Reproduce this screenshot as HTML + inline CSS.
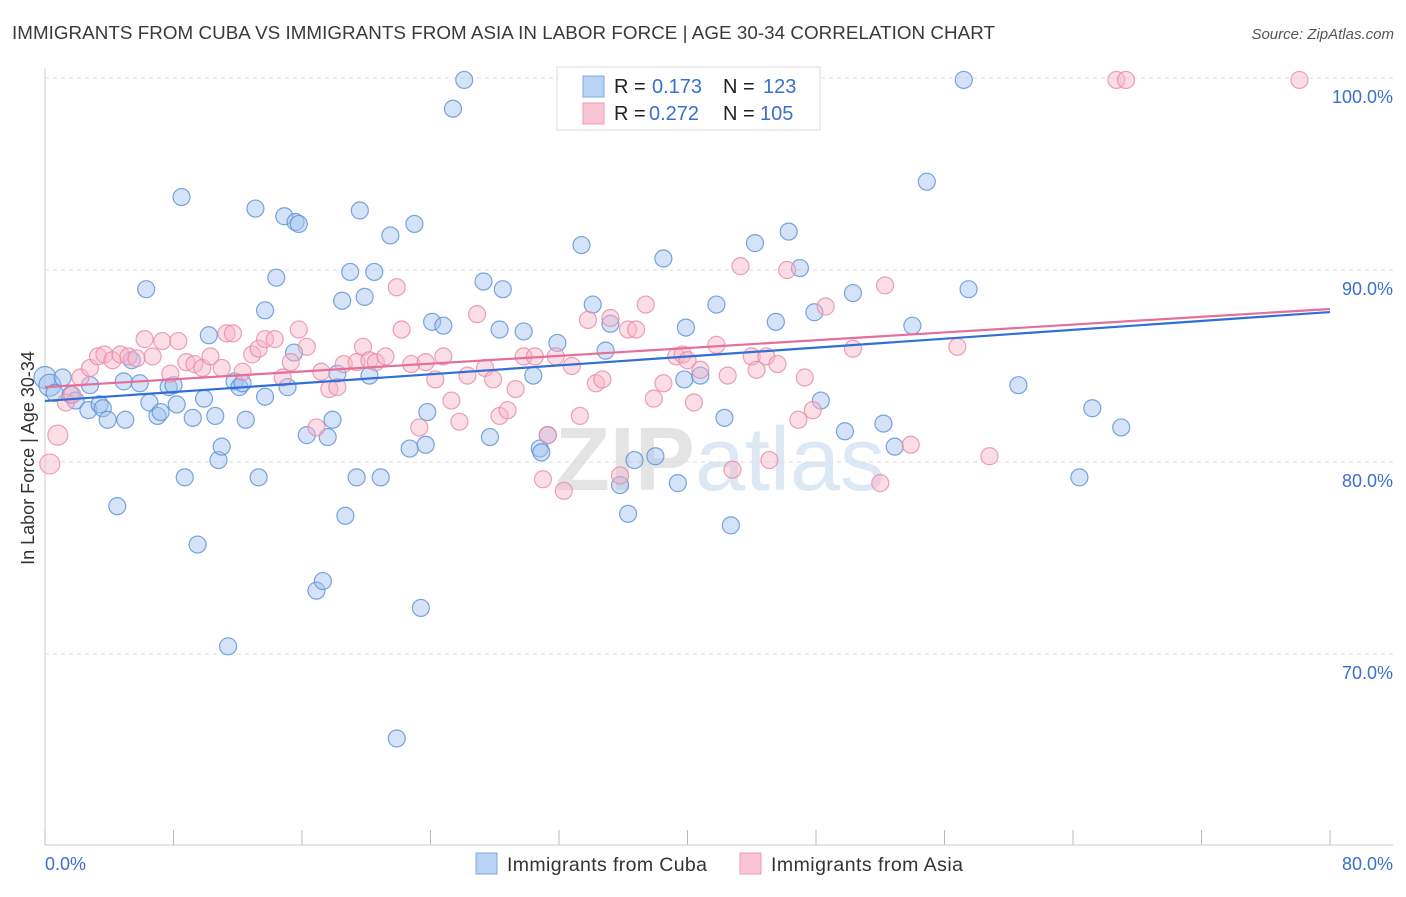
<!DOCTYPE html>
<html><head><meta charset="utf-8"><style>
body{margin:0;background:#fff;font-family:"Liberation Sans",sans-serif}
svg text{font-family:"Liberation Sans",sans-serif}
</style></head><body>
<svg id="chart" width="1406" height="892" xmlns="http://www.w3.org/2000/svg">
<text x="12" y="39" font-size="18.8" fill="#3a3a3a" textLength="983">IMMIGRANTS FROM CUBA VS IMMIGRANTS FROM ASIA IN LABOR FORCE | AGE 30-34 CORRELATION CHART</text>
<text x="1394" y="39" font-size="15" fill="#555" font-style="italic" text-anchor="end">Source: ZipAtlas.com</text>
<text x="720" y="490" font-size="90" fill="#e4e4e4" text-anchor="middle" font-weight="bold">ZIP<tspan fill="#dde8f5" font-weight="normal">atlas</tspan></text>
<g id="grid"></g>
<g id="marks"></g>
<text transform="translate(34,458) rotate(-90)" font-size="18" fill="#333" text-anchor="middle">In Labor Force | Age 30-34</text>
<text x="45" y="870" font-size="18" fill="#3a6fd0">0.0%</text>
<text x="1393" y="870" font-size="18" fill="#3a6fd0" text-anchor="end">80.0%</text>
<g>
<rect x="557" y="67" width="263" height="63" fill="#fff" stroke="#ddd"/>
<rect x="583" y="76" width="21" height="21" fill="#b9d3f5" stroke="#7fa8e0"/>
<rect x="583" y="103" width="21" height="21" fill="#f9c5d5" stroke="#eb9ab4"/>
<text x="614" y="93" font-size="20" fill="#222">R =</text>
<text x="652" y="93" font-size="20" fill="#3a6fd0">0.173</text>
<text x="723" y="93" font-size="20" fill="#222">N =</text>
<text x="763" y="93" font-size="20" fill="#3a6fd0">123</text>
<text x="614" y="120" font-size="20" fill="#222">R =</text>
<text x="649" y="120" font-size="20" fill="#3a6fd0">0.272</text>
<text x="723" y="120" font-size="20" fill="#222">N =</text>
<text x="760" y="120" font-size="20" fill="#3a6fd0">105</text>
</g>
<g>
<rect x="476" y="853" width="21" height="21" fill="#b9d3f5" stroke="#7fa8e0"/>
<text x="507" y="871" font-size="19.5" fill="#333" textLength="200">Immigrants from Cuba</text>
<rect x="740" y="853" width="21" height="21" fill="#f9c5d5" stroke="#eb9ab4"/>
<text x="771" y="871" font-size="19.5" fill="#333" textLength="192">Immigrants from Asia</text>
</g>
</svg>
<script>
const blueX=[0,0.3,1.1,0.6,1.6,1.9,2.7,2.8,3.4,3.6,3.9,4.5,4.9,5.0,5.4,5.9,6.3,6.5,7.0,7.2,7.7,8.0,8.2,8.5,8.7,9.2,9.5,9.9,10.2,10.6,10.8,11.0,11.4,11.8,12.1,12.3,12.5,13.1,13.3,13.7,13.7,14.4,14.9,15.1,15.6,15.8,15.5,16.3,16.9,17.3,17.6,17.9,18.2,18.5,18.7,19.0,19.4,19.6,19.9,20.2,20.5,20.9,21.5,21.9,22.7,23.0,23.4,23.7,23.8,24.1,24.8,25.4,26.1,27.3,27.7,28.3,28.5,29.8,30.4,30.8,30.9,31.3,31.9,32.4,33.4,34.1,34.9,35.2,35.8,36.3,36.7,38.0,38.5,39.4,39.8,39.9,40.8,41.8,42.3,42.7,44.2,45.5,46.3,47.0,47.9,48.3,49.8,50.3,52.2,52.9,54.0,54.9,57.2,57.5,60.6,64.4,65.2,67.0];
const blueY=[84.4,84.0,84.4,83.6,83.5,83.2,82.7,84.0,83.0,82.8,82.2,77.7,84.2,82.2,85.3,84.1,89.0,83.1,82.4,82.6,83.9,84.0,83.0,93.8,79.2,82.3,75.7,83.3,86.6,82.4,80.1,80.8,70.4,84.2,83.9,84.1,82.2,93.2,79.2,83.4,87.9,89.6,92.8,83.9,92.5,92.4,85.7,81.4,73.3,73.8,81.3,82.2,84.6,88.4,77.2,89.9,79.2,93.1,88.6,84.5,89.9,79.2,91.8,65.6,80.7,92.4,72.4,80.9,82.6,87.3,87.1,98.4,99.9,89.4,81.3,86.9,89.0,86.8,84.5,80.7,80.5,81.4,86.2,99.9,91.3,88.2,85.8,87.2,78.8,77.3,80.1,80.3,90.6,78.9,84.3,87.0,84.5,88.2,82.3,76.7,91.4,87.3,92.0,90.1,87.8,83.2,81.6,88.8,82.0,80.8,87.1,94.6,99.9,89.0,84.0,79.2,82.8,81.8];
const pinkX=[0.3,0.8,1.3,1.7,2.2,2.8,3.3,3.7,4.2,4.7,5.2,5.7,6.2,6.7,7.3,7.8,8.3,8.8,9.3,9.8,10.3,11.0,11.3,11.7,12.3,12.9,13.3,13.7,14.3,14.8,15.3,15.8,16.3,16.9,17.2,17.7,18.2,18.6,19.4,19.8,20.2,20.6,21.2,21.9,22.2,22.8,23.3,23.7,24.3,24.8,25.3,25.8,26.3,26.9,27.4,27.9,28.3,28.8,29.3,29.8,30.5,31.0,31.3,31.8,32.3,32.8,33.3,33.8,34.3,34.7,35.2,35.8,36.3,36.8,37.4,37.9,38.5,39.3,39.7,40.0,40.4,40.8,41.8,42.5,42.8,43.3,44.0,44.3,44.9,45.1,45.6,46.2,46.9,47.3,47.8,48.6,50.3,52.0,52.3,53.9,56.8,58.8,66.7,67.3,78.1];
const pinkY=[79.9,81.4,83.1,83.5,84.4,84.9,85.5,85.6,85.3,85.6,85.5,85.4,86.4,85.5,86.3,84.6,86.3,85.2,85.1,84.9,85.5,84.9,86.7,86.7,84.7,85.6,85.9,86.4,86.4,84.4,85.2,86.9,86.0,81.8,84.7,83.8,83.9,85.1,85.2,86.0,85.3,85.2,85.5,89.1,86.9,85.1,81.8,85.2,84.3,85.5,83.2,82.1,84.5,87.7,84.9,84.3,82.4,82.7,83.8,85.5,85.5,79.1,81.4,85.5,78.5,85.0,82.4,87.4,84.1,84.3,87.5,79.3,86.9,86.9,88.2,83.3,84.1,85.5,85.6,85.3,83.1,84.8,86.1,84.5,79.6,90.2,85.5,84.8,85.5,80.1,85.1,90.0,82.2,84.4,82.7,88.1,85.9,78.9,89.2,80.9,86.0,80.3,99.9,99.9,99.9];
const trendBlue=[83.18,87.81];
const trendPink=[83.9,87.97];
const yTicks=[100,90,80,70];
const yTickLabels=["100.0%","90.0%","80.0%","70.0%"];
const xTickVals=[0,8,16,24,32,40,48,56,64,72,80];

const NS="http://www.w3.org/2000/svg";
function sx(v){return 45+v*1285/80;}
function sy(v){return 78+(100-v)*19.2;}
function mk(tag,attrs,parent){const e=document.createElementNS(NS,tag);for(const k in attrs)e.setAttribute(k,attrs[k]);parent.appendChild(e);return e;}
const grid=document.getElementById('grid'),marks=document.getElementById('marks');
yTicks.forEach((t,i)=>{
  const l=mk('line',{x1:45,x2:1393,y1:sy(t),y2:sy(t),stroke:'#ddd','stroke-dasharray':'4,4'},grid);
  
  
  const tx=mk('text',{x:1393,y:sy(t)+25,'font-size':18,fill:'#3a6fd0','text-anchor':'end'},grid);
  tx.textContent=yTickLabels[i];
  
  
});
const ax=mk('line',{x1:45,x2:45,y1:68,y2:845,stroke:'#ccc'},grid);


const bx=mk('line',{x1:45,x2:1393,y1:845,y2:845,stroke:'#ccc'},grid);


xTickVals.forEach(v=>{
  const t=mk('line',{x1:sx(v),x2:sx(v),y1:830,y2:845,stroke:'#bbb'},grid);
  
  
});
function dots(X,Y,fill,stroke,name){
  X.forEach((x,i)=>{
    const r=i<2?(name==='cuba-point'?11:10):8.5;
    const c=mk('circle',{cx:sx(x),cy:sy(Y[i]),r:r,fill:fill,'fill-opacity':0.45,stroke:stroke,'stroke-width':1.2,'stroke-opacity':0.8},marks);
    
    
  });
}
dots(blueX,blueY,'#9fc2ef','#5b8fd6','cuba-point');
dots(pinkX,pinkY,'#f6b3c8','#e88aa8','asia-point');
const lb=mk('line',{x1:sx(0),x2:sx(80),y1:sy(trendBlue[0]),y2:sy(trendBlue[1]),stroke:'#2f6fd6','stroke-width':2.2},marks);


const lp=mk('line',{x1:sx(0),x2:sx(80),y1:sy(trendPink[0]),y2:sy(trendPink[1]),stroke:'#e46f99','stroke-width':2.2},marks);


</script>
</body></html>
